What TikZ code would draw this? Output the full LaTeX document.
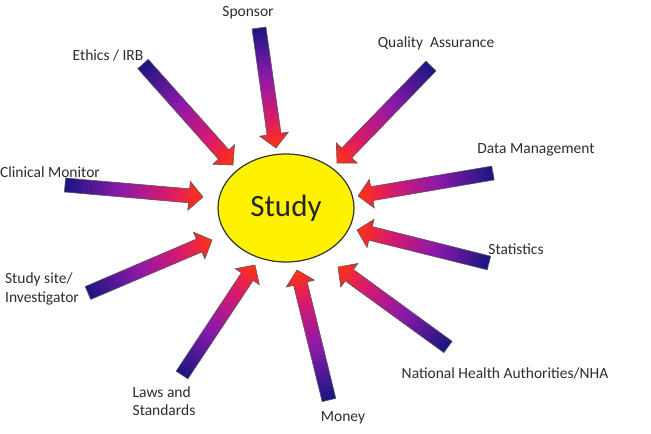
\documentclass[tikz,border=0pt]{standalone}
\usepackage{fontspec}
\setmainfont{Carlito}
\usetikzlibrary{calc,shapes.geometric}
\definecolor{navyA}{RGB}{30,22,130}
\definecolor{purpA}{RGB}{140,25,170}
\definecolor{magA}{RGB}{215,25,110}
\definecolor{redA}{RGB}{255,50,20}
\definecolor{txtA}{RGB}{45,45,45}
\newcommand\arrcolour[1]{%
  \pgfmathsetmacro\arrt{#1}%
  \ifdim\arrt pt<0.4pt
    \pgfmathtruncatemacro\arrpc{\arrt/0.4*100}\colorlet{arrcol}{purpA!\arrpc!navyA}%
  \else\ifdim\arrt pt<0.75pt
    \pgfmathtruncatemacro\arrpc{(\arrt-0.4)/0.35*100}\colorlet{arrcol}{magA!\arrpc!purpA}%
  \else
    \pgfmathtruncatemacro\arrpc{(\arrt-0.75)/0.25*100}\colorlet{arrcol}{redA!\arrpc!magA}%
  \fi\fi}
\newcommand\fatarrow[2]{%
  \coordinate (#1-n) at ($(#2)!14pt!(#1)$);
  \path[arrowline, path picture={
      \foreach \i in {0,...,29}{
        \arrcolour{\i/29}
        \pgfmathsetmacro\arra{\i/30}
        \pgfmathsetmacro\arrb{(\i+1.1)/30}
        \draw[line width=40pt, line cap=butt, color=arrcol] ($(#1)!\arra!(#2)$) -- ($(#1)!\arrb!(#2)$);
      }}]
    ($(#1)!7pt!90:(#2)$) -- ($(#1-n)!7pt!90:(#2)$) -- ($(#1-n)!14.5pt!90:(#2)$)
    -- (#2) -- ($(#1-n)!14.5pt!-90:(#2)$) -- ($(#1-n)!7pt!-90:(#2)$)
    -- ($(#1)!7pt!-90:(#2)$) -- cycle;}
\tikzset{
  arrowline/.style={draw=black!65, line width=0.6pt, line join=miter},
  lbl/.style={font=\fontsize{15.5}{18.5}\selectfont, text=txtA, inner sep=0pt, align=left},
  studynode/.style={ellipse, draw=black!80, line width=1.2pt, fill=yellow,
    minimum width=136pt, minimum height=108pt, inner sep=0pt,
    font=\fontsize{31}{36}\selectfont, text=black!85}
}
\begin{document}
\begin{tikzpicture}[x=1pt,y=-1pt]
\useasboundingbox (0,0) rectangle (651,434);
% tails and tips
\coordinate (t1) at (259,28);  \coordinate (h1) at (276,148);
\coordinate (t2) at (143,64);  \coordinate (h2) at (233,165);
\coordinate (t3) at (65,185);  \coordinate (h3) at (203,197);
\coordinate (t4) at (431,66);  \coordinate (h4) at (337,163);
\coordinate (t5) at (493,173); \coordinate (h5) at (358,196);
\coordinate (t6) at (489,263); \coordinate (h6) at (357,230);
\coordinate (t7) at (448,347); \coordinate (h7) at (338,267);
\coordinate (t8) at (329,400); \coordinate (h8) at (297,270);
\coordinate (t9) at (182,375); \coordinate (h9) at (255,265);
\coordinate (t10) at (88,293); \coordinate (h10) at (212,240);
\foreach \k in {1,...,10}{\fatarrow{t\k}{h\k}}
\node[studynode] (study) at (286,208) {Study};
% labels
\node[lbl] (sponsor) at (248,13) {Sponsor};
\node[lbl] (ethics) at (108,55) {Ethics / IRB};
\node[lbl] (clinical) at (50,172) {Clinical Monitor};
\node[lbl] (qa) at (436,43) {Quality\ \ Assurance};
\node[lbl] (dm) at (536,150) {Data Management};
\node[lbl] (stats) at (516,249) {Statistics};
\node[lbl] (nha) at (505,373) {National Health\ Authorities/NHA};
\node[lbl] (money) at (343,418) {Money};
\node[lbl] (laws) at (164,401) {Laws and\\Standards};
\node[lbl] (site) at (42,289) {Study site/\\Investigator};
\end{tikzpicture}
\end{document}
